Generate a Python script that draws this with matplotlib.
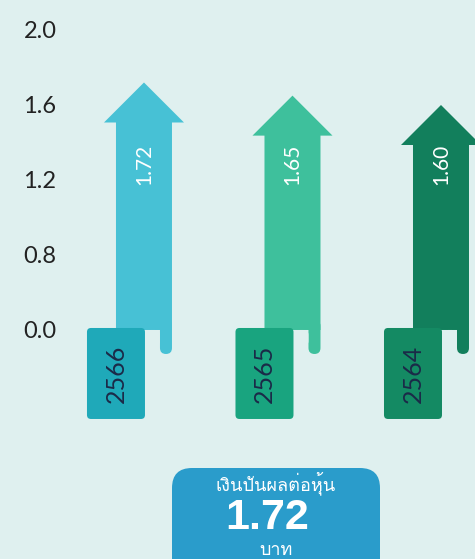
import matplotlib
matplotlib.use("Agg")
import matplotlib.pyplot as plt
import numpy as np
from matplotlib import font_manager
from matplotlib.ft2font import FT2Font
from matplotlib.patches import Polygon, FancyBboxPatch
from matplotlib.transforms import Affine2D, IdentityTransform

# --- DATA ---
years = ["2566", "2565", "2564"]
dividends = [1.72, 1.65, 1.60]
tick_values = [0.0, 0.8, 1.2, 1.6, 2.0]
tick_labels = ["0.0", "0.8", "1.2", "1.6", "2.0"]
summary_label = "เงินปันผลต่อหุ้น"
summary_value = "1.72"
summary_unit = "บาท"

# --- STYLE ---
BG = "#dff0ef"
arrow_colors = ["#47c1d5", "#3ec09c", "#127f5c"]
tab_colors = ["#1fa9b9", "#19a47f", "#148a63"]
BOX_COLOR = "#2a9ccb"
NUM_FONT = ["Lato", "DejaVu Sans"]


def find_thai_font():
    # first installed font that has Thai glyphs
    for f in font_manager.fontManager.ttflist:
        try:
            if 0x0E07 in FT2Font(f.fname).get_charmap():
                return f.name
        except Exception:
            pass
    return None


thai = find_thai_font()
THAI_FONT = [thai, "Liberation Sans", "DejaVu Sans"] if thai else ["Liberation Sans", "DejaVu Sans"]

# y axis: tick values are evenly spaced (infographic scale)
steps = np.arange(len(tick_values), dtype=float)
lo_slope = tick_values[1] - tick_values[0]
hi_slope = tick_values[-1] - tick_values[-2]


def forward(y):
    y = np.asarray(y, dtype=float)
    out = np.interp(y, tick_values, steps)
    out = np.where(y < tick_values[0], (y - tick_values[0]) / lo_slope, out)
    out = np.where(y > tick_values[-1], steps[-1] + (y - tick_values[-1]) / hi_slope, out)
    return out


def inverse(s):
    s = np.asarray(s, dtype=float)
    out = np.interp(s, steps, tick_values)
    out = np.where(s < 0, tick_values[0] + s * lo_slope, out)
    out = np.where(s > steps[-1], tick_values[-1] + (s - steps[-1]) * hi_slope, out)
    return out


W, H = 475, 559
fig = plt.figure(figsize=(W / 100, H / 100), dpi=100)
fig.patch.set_facecolor(BG)
ax = fig.add_axes([62 / W, 0, 1 - 62 / W, 1])
ax.set_facecolor(BG)
ax.set_yscale("function", functions=(forward, inverse))
ax.set_ylim(-2.443, 2.16)
ax.set_xlim(-0.552, 2.229)
ax.set_yticks(tick_values)
ax.set_yticklabels(tick_labels, fontsize=17, color="#222222", family=NUM_FONT)
ax.tick_params(axis="y", length=0, pad=4)
ax.set_xticks([])
for s in ax.spines.values():
    s.set_visible(False)

# --- ARROWS (drawn in pixels around each data point) ---
for i, (yr, val) in enumerate(zip(years, dividends)):
    x0, y0 = ax.transData.transform((i, 0.0))
    tip = ax.transData.transform((i, val))[1] - y0
    tr = Affine2D().translate(x0, y0)

    # small strip of the folded ribbon
    ax.add_patch(FancyBboxPatch((16, -24), 12, 34, boxstyle="round,pad=0,rounding_size=6",
                                fc=arrow_colors[i], ec="none", transform=tr, clip_on=False))
    verts = [(-28, 0), (-28, tip - 40), (-40, tip - 40), (0, tip),
             (40, tip - 40), (28, tip - 40), (28, 0)]
    ax.add_patch(Polygon(verts, closed=True, fc=arrow_colors[i], ec="none",
                         transform=tr, clip_on=False))
    # gap between the tab and the strip
    ax.add_patch(FancyBboxPatch((2, -16), 14, 16, boxstyle="round,pad=0,rounding_size=5",
                                fc=BG, ec="none", transform=tr, clip_on=False))
    # year tab
    ax.add_patch(FancyBboxPatch((-57, -89), 58, 91, boxstyle="round,pad=0,rounding_size=4",
                                fc=tab_colors[i], ec="none", transform=tr, clip_on=False))
    ax.text(-28, -44, yr, transform=tr, rotation=90, ha="center", va="center",
            fontsize=18, color="#1b2a48", family=NUM_FONT)
    ax.text(0, 166, f"{val:.2f}", transform=tr, rotation=90, ha="center", va="center",
            fontsize=15, color="white", family=NUM_FONT)

# --- SUMMARY BOX ---
fig.add_artist(FancyBboxPatch((172, -40), 208, 131, boxstyle="round,pad=0,rounding_size=20",
                              fc=BOX_COLOR, ec="none", transform=IdentityTransform()))
fig.text(276 / W, 76 / H, summary_label, ha="center", va="center",
         fontsize=13, color="white", family=THAI_FONT)
fig.text(267 / W, 41 / H, summary_value, ha="center", va="center",
         fontsize=31, fontweight="bold", color="white", family=["Liberation Sans", "DejaVu Sans"])
fig.text(276 / W, 9 / H, summary_unit, ha="center", va="center",
         fontsize=13, color="white", family=THAI_FONT)

fig.savefig("out.png", dpi=100, facecolor=BG)
